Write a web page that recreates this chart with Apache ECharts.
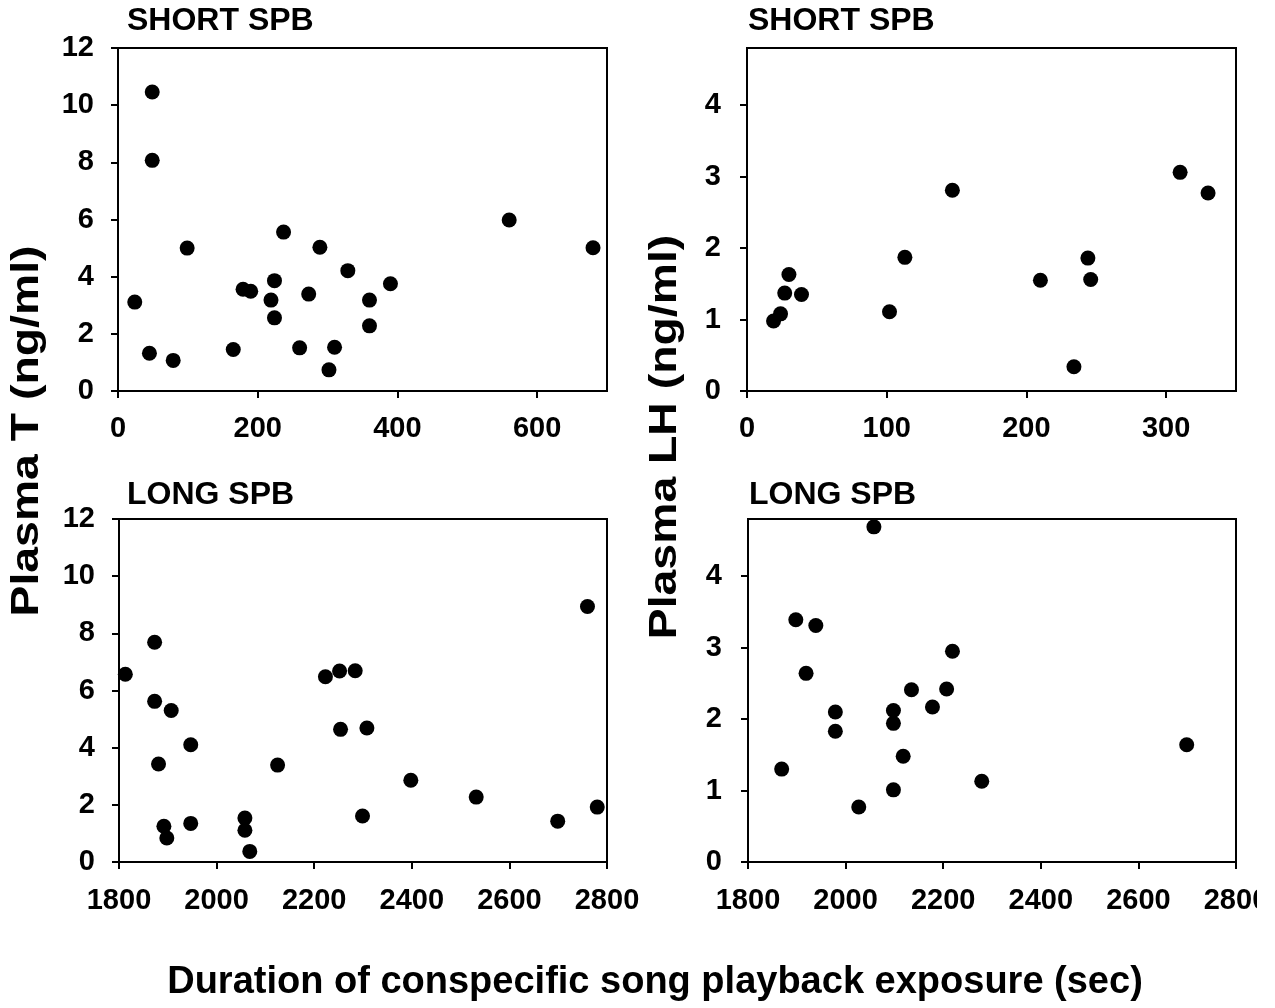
<!DOCTYPE html>
<html>
<head>
<meta charset="utf-8">
<script src="https://cdn.jsdelivr.net/npm/echarts@6/dist/echarts.min.js"></script>
<style>
  html, body { margin: 0; padding: 0; background: #fff; }
  #chart { width: 1257px; height: 1008px; }
</style>
</head>
<body>
<div id="chart"></div>
<script>
// ---- Data ----
var shortT_x = [49, 49, 99, 24, 45, 79, 165, 179, 190, 224, 219, 224, 237, 260, 273, 289, 302, 310, 329, 360, 360, 390, 560, 680];
var shortT_y = [10.46, 8.07, 5.0, 3.11, 1.32, 1.07, 1.45, 3.56, 3.49, 3.86, 3.18, 2.56, 5.56, 1.51, 3.39, 5.03, 0.74, 1.53, 4.21, 3.18, 2.28, 3.75, 5.98, 5.01];

var shortLH_x = [19, 24, 30, 27, 39, 102, 113, 147, 210, 244, 246, 234, 310, 330];
var shortLH_y = [0.98, 1.08, 1.63, 1.37, 1.35, 1.11, 1.87, 2.81, 1.55, 1.86, 1.56, 0.34, 3.06, 2.77];

var longT_x = [1813, 1873, 1873, 1907, 1947, 1881, 1892, 1898, 1947, 2058, 2058, 2068, 2125, 2223, 2252, 2284, 2254, 2308, 2299, 2398, 2532, 2699, 2760, 2780];
var longT_y = [6.57, 7.69, 5.62, 5.30, 4.10, 3.43, 1.25, 0.84, 1.35, 1.54, 1.11, 0.37, 3.39, 6.48, 6.68, 6.69, 4.64, 4.69, 1.61, 2.86, 2.27, 1.43, 8.94, 1.92];

var longLH_x = [1869, 1898, 1939, 1919, 1979, 1979, 2027, 2058, 2098, 2098, 2098, 2118, 2135, 2178, 2207, 2219, 2279, 2699];
var longLH_y = [1.30, 3.39, 3.31, 2.64, 2.10, 1.83, 0.77, 4.69, 2.12, 1.94, 1.01, 1.48, 2.41, 2.17, 2.42, 2.95, 1.13, 1.64];

var shortT_xticks = [0, 200, 400, 600];
var shortLH_xticks = [0, 100, 200, 300];
var T_yticks = [0, 2, 4, 6, 8, 10, 12];
var LH_yticks = [0, 1, 2, 3, 4];
var long_xticks = [1800, 2000, 2200, 2400, 2600, 2800];

var panelTitles = ['SHORT SPB', 'SHORT SPB', 'LONG SPB', 'LONG SPB'];
var yTitleT = 'Plasma T (ng/ml)';
var yTitleLH = 'Plasma LH (ng/ml)';
var xTitle = 'Duration of conspecific song playback exposure (sec)';

function zip(xs, ys) { return xs.map(function (x, i) { return [x, ys[i]]; }); }

var FONT = '"Liberation Sans", Arial, sans-serif';
var labelStyle = { color: '#000', fontFamily: FONT, fontWeight: 'bold', fontSize: 29,
  formatter: function (v) { return String(v); } };

function axisBase(idx, min, max, ticks, margin) {
  return {
    type: 'value', gridIndex: idx, min: min, max: max,
    axisLine: { show: true, onZero: false, lineStyle: { color: '#000', width: 2 } },
    axisTick: { show: true, inside: false, length: 7, lineStyle: { color: '#000', width: 2 }, customValues: ticks },
    axisLabel: Object.assign({ margin: margin, customValues: ticks }, labelStyle),
    splitLine: { show: false }
  };
}
function grid(left, top, width, height) {
  return { left: left, top: top, width: width, height: height, show: true,
    borderColor: '#000', borderWidth: 2, backgroundColor: 'transparent',
    containLabel: false, outerBoundsMode: 'none' };
}
function series(idx, data) {
  return {
    type: 'scatter', xAxisIndex: idx, yAxisIndex: idx, data: data,
    symbol: 'circle', symbolSize: 15, itemStyle: { color: '#000', opacity: 1 }, clip: false
  };
}
function txt(text, x, y, size) {
  return {
    type: 'text', x: x, y: y,
    style: { text: text, fill: '#000', font: 'bold ' + size + 'px ' + FONT, textAlign: 'left', textVerticalAlign: 'middle' }
  };
}

var chart = echarts.init(document.getElementById('chart'), null, { renderer: 'canvas' });
chart.setOption({
  backgroundColor: '#fff',
  animation: false,
  grid: [
    grid(118, 48, 489, 343),
    grid(747, 48, 489, 343),
    grid(119, 519, 488, 343),
    grid(748, 519, 488, 343)
  ],
  xAxis: [
    axisBase(0, 0, 700, shortT_xticks, 23),
    axisBase(1, 0, 350, shortLH_xticks, 23),
    axisBase(2, 1800, 2800, long_xticks, 24),
    axisBase(3, 1800, 2800, long_xticks, 24)
  ],
  yAxis: [
    axisBase(0, 0, 12, T_yticks, 24),
    axisBase(1, 0, 4.8, LH_yticks, 26),
    axisBase(2, 0, 12, T_yticks, 24),
    axisBase(3, 0, 4.8, LH_yticks, 26)
  ],
  series: [
    series(0, zip(shortT_x, shortT_y)),
    series(1, zip(shortLH_x, shortLH_y)),
    series(2, zip(longT_x, longT_y)),
    series(3, zip(longLH_x, longLH_y))
  ],
  graphic: [
    txt(panelTitles[0], 127, 21, 32),
    txt(panelTitles[1], 748, 21, 32),
    txt(panelTitles[2], 127, 495, 32),
    txt(panelTitles[3], 749, 495, 32),
    { type: 'text', x: 28, y: 431, rotation: Math.PI / 2, scaleX: 1.22,
      style: { text: yTitleT, fill: '#000', font: 'bold 38px ' + FONT, textAlign: 'center', textVerticalAlign: 'middle' } },
    { type: 'text', x: 666, y: 437, rotation: Math.PI / 2, scaleX: 1.22,
      style: { text: yTitleLH, fill: '#000', font: 'bold 38px ' + FONT, textAlign: 'center', textVerticalAlign: 'middle' } },
    { type: 'text', x: 655, y: 983,
      style: { text: xTitle, fill: '#000', font: 'bold 38px ' + FONT, textAlign: 'center', textVerticalAlign: 'middle' } }
  ]
});
</script>
</body>
</html>
